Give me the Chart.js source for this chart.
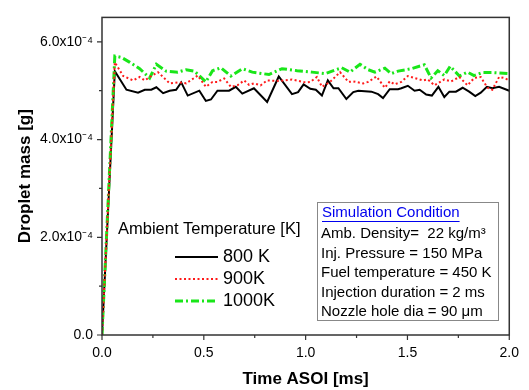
<!DOCTYPE html>
<html>
<head>
<meta charset="utf-8">
<script src="https://cdn.jsdelivr.net/npm/chart.js@4"></script>
<style>
body { margin: 0; background: #fff; }
</style>
</head>
<body>
<canvas id="myChart" width="529" height="390"></canvas>
<script>
// droplet mass in units of 1e-4 g, time in ms
const time_800 = [0, 0.063, 0.12, 0.177, 0.21, 0.242, 0.267, 0.30, 0.332, 0.364, 0.389, 0.421, 0.478, 0.51, 0.535, 0.567, 0.624, 0.657, 0.689, 0.746, 0.811, 0.868, 0.933, 0.963, 0.99, 1.023, 1.05, 1.08, 1.109, 1.137, 1.161, 1.2, 1.234, 1.259, 1.323, 1.356, 1.38, 1.413, 1.454, 1.47, 1.502, 1.535, 1.56, 1.592, 1.62, 1.652, 1.681, 1.706, 1.738, 1.771, 1.803, 1.833, 1.86, 1.89, 1.917, 1.95, 2.0];
const mass_800 = [0, 5.40, 5.02, 4.96, 5.02, 5.02, 5.07, 4.95, 5.00, 5.02, 5.17, 4.90, 5.00, 4.79, 4.82, 5.00, 5.00, 5.08, 4.94, 5.05, 4.77, 5.29, 4.93, 4.97, 5.13, 5.04, 5.02, 4.90, 5.21, 5.05, 5.05, 4.83, 4.97, 5.00, 4.98, 4.93, 4.85, 5.03, 5.03, 5.05, 5.10, 5.00, 5.02, 4.92, 4.90, 5.08, 4.87, 4.98, 4.98, 5.06, 4.98, 4.89, 4.96, 5.08, 5.05, 5.08, 5.00];

const time_900 = [0, 0.063, 0.104, 0.153, 0.185, 0.21, 0.242, 0.275, 0.30, 0.332, 0.38, 0.413, 0.47, 0.51, 0.543, 0.567, 0.60, 0.633, 0.665, 0.698, 0.722, 0.746, 0.779, 0.811, 0.868, 0.933, 0.999, 1.023, 1.055, 1.08, 1.12, 1.169, 1.21, 1.234, 1.283, 1.307, 1.348, 1.389, 1.413, 1.437, 1.47, 1.502, 1.535, 1.576, 1.60, 1.633, 1.681, 1.714, 1.755, 1.795, 1.828, 1.86, 1.893, 1.917, 1.95, 1.975, 2.0];
const mass_900 = [0, 5.58, 5.30, 5.21, 5.28, 5.21, 5.30, 5.38, 5.28, 5.15, 5.17, 5.15, 5.31, 5.08, 5.18, 5.18, 5.25, 5.08, 5.11, 5.21, 5.12, 5.15, 5.11, 5.21, 5.20, 5.23, 5.17, 5.18, 5.28, 5.08, 5.18, 5.38, 5.18, 5.19, 5.15, 5.18, 5.29, 5.06, 5.19, 5.13, 5.18, 5.30, 5.26, 5.21, 5.23, 5.11, 5.23, 5.19, 5.28, 5.11, 5.26, 5.28, 5.06, 5.02, 5.28, 5.26, 5.21];

const time_1000 = [0, 0.063, 0.096, 0.137, 0.185, 0.234, 0.267, 0.315, 0.372, 0.413, 0.454, 0.51, 0.543, 0.584, 0.633, 0.689, 0.738, 0.82, 0.884, 0.958, 1.031, 1.096, 1.177, 1.218, 1.267, 1.307, 1.34, 1.389, 1.42, 1.454, 1.519, 1.583, 1.616, 1.649, 1.681, 1.71, 1.755, 1.795, 1.827, 1.868, 1.925, 2.0];
const mass_1000 = [0, 5.71, 5.68, 5.58, 5.45, 5.26, 5.54, 5.40, 5.38, 5.43, 5.40, 5.18, 5.41, 5.47, 5.30, 5.45, 5.38, 5.33, 5.45, 5.41, 5.38, 5.35, 5.47, 5.38, 5.54, 5.43, 5.38, 5.46, 5.35, 5.40, 5.45, 5.53, 5.26, 5.41, 5.31, 5.50, 5.30, 5.38, 5.31, 5.37, 5.37, 5.35];

const series_labels = ['800 K', '900K', '1000K'];
const x_ticks = [0, 0.5, 1.0, 1.5, 2.0];
const y_ticks = [0, 2, 4, 6];
const legend_title = 'Ambient Temperature [K]';
const condition_title = 'Simulation Condition';
const condition_lines = [
    'Amb. Density=  22 kg/m\u00b3',
    'Inj. Pressure = 150 MPa',
    'Fuel temperature = 450 K',
    'Injection duration = 2 ms',
    'Nozzle hole dia = 90 \u03bcm'
];

const FONT = '"Liberation Sans", Arial, sans-serif';

function to_points(arr_time, arr_value) {
    let pts = [];
    for (let i = 0; i < arr_time.length; i++) {
        pts.push({x: arr_time[i], y: arr_value[i]});
    }
    return pts;
}

const frame_plugin = {
    id: 'frame_plugin',
    afterDraw(chart) {
        const ctx = chart.ctx;
        const a = chart.chartArea;
        const xs = chart.scales.x;
        const ys = chart.scales.y;
        ctx.save();
        ctx.strokeStyle = '#333';
        ctx.lineWidth = 1.5;
        ctx.strokeRect(a.left, a.top, a.right - a.left, a.bottom - a.top);
        ctx.lineWidth = 1.2;
        ctx.beginPath();
        for (let v = 0; v <= 2.0001; v += 0.25) {
            const px = xs.getPixelForValue(v);
            const len = (Math.abs(v / 0.5 - Math.round(v / 0.5)) < 1e-6) ? 5 : 3;
            ctx.moveTo(px, a.bottom);
            ctx.lineTo(px, a.bottom + len);
        }
        for (let v = 0; v <= 6.0001; v += 1) {
            const py = ys.getPixelForValue(v);
            const len = (v % 2 === 0) ? 5 : 3;
            ctx.moveTo(a.left, py);
            ctx.lineTo(a.left - len, py);
        }
        ctx.stroke();

        // legend
        ctx.fillStyle = '#000';
        ctx.textBaseline = 'middle';
        ctx.textAlign = 'left';
        ctx.font = '16.5px ' + FONT;
        ctx.fillText(legend_title, 118, 229);
        const ds = chart.data.datasets;
        for (let i = 0; i < ds.length; i++) {
            const y = 257 + i * 22;
            ctx.save();
            ctx.strokeStyle = ds[i].borderColor;
            ctx.lineWidth = ds[i].borderWidth;
            ctx.setLineDash(ds[i].borderDash || []);
            ctx.beginPath();
            ctx.moveTo(175, y);
            ctx.lineTo(218, y);
            ctx.stroke();
            ctx.restore();
            ctx.font = '18px ' + FONT;
            ctx.fillText(ds[i].label, 223, y);
        }

        // condition box
        ctx.strokeStyle = '#888';
        ctx.lineWidth = 1;
        ctx.fillStyle = '#fff';
        ctx.fillRect(317.5, 202.5, 181, 118);
        ctx.strokeRect(317.5, 202.5, 181, 118);
        ctx.font = '15px ' + FONT;
        ctx.fillStyle = '#0000ee';
        ctx.fillText(condition_title, 322, 213);
        const w = ctx.measureText(condition_title).width;
        ctx.strokeStyle = '#0000ee';
        ctx.beginPath();
        ctx.moveTo(322, 221.5);
        ctx.lineTo(322 + w, 221.5);
        ctx.stroke();
        ctx.fillStyle = '#000';
        for (let i = 0; i < condition_lines.length; i++) {
            ctx.fillText(condition_lines[i], 321, 234 + i * 19.5);
        }
        ctx.restore();
    }
};

const ctx = document.getElementById('myChart').getContext('2d');
const myChart = new Chart(ctx, {
    type: 'line',
    data: {
        datasets: [{
            label: series_labels[0],
            data: to_points(time_800, mass_800),
            borderColor: '#000000',
            borderWidth: 2,
            order: 2
        }, {
            label: series_labels[1],
            data: to_points(time_900, mass_900),
            borderColor: '#ff1a1a',
            borderWidth: 2,
            borderDash: [2, 2.5],
            order: 0
        }, {
            label: series_labels[2],
            data: to_points(time_1000, mass_1000),
            borderColor: '#19e619',
            borderWidth: 3,
            borderDash: [8, 3, 2, 3],
            order: 1
        }]
    },
    options: {
        responsive: false,
        animation: false,
        layout: { padding: { top: 6, right: 17, left: 0, bottom: 0 } },
        elements: { point: { radius: 0 }, line: { tension: 0 } },
        plugins: { legend: { display: false }, tooltip: { enabled: false } },
        scales: {
            x: {
                type: 'linear',
                min: 0,
                max: 2,
                grid: { display: false, drawTicks: false },
                border: { display: false },
                afterBuildTicks: (scale) => { scale.ticks = x_ticks.map(v => ({value: v})); },
                afterFit: (scale) => { scale.height = 55; },
                ticks: {
                    padding: 10,
                    color: '#000',
                    font: { family: FONT, size: 14 },
                    maxRotation: 0,
                    callback: (v) => v.toFixed(1)
                },
                title: {
                    display: true,
                    text: 'Time ASOI [ms]',
                    color: '#000',
                    font: { family: FONT, size: 17, weight: 'bold' },
                    padding: { top: 0, bottom: 0 }
                }
            },
            y: {
                min: 0,
                max: 6.5,
                grid: { display: false, drawTicks: false },
                border: { display: false },
                afterBuildTicks: (scale) => { scale.ticks = y_ticks.map(v => ({value: v})); },
                afterFit: (scale) => { scale.width = 102; },
                ticks: {
                    padding: 9,
                    color: '#000',
                    font: { family: FONT, size: 14 },
                    callback: (v) => v === 0 ? '0.0' : v.toFixed(1) + 'x10\u207b\u2074'
                },
                title: {
                    display: true,
                    text: 'Droplet mass [g]',
                    color: '#000',
                    font: { family: FONT, size: 17, weight: 'bold' },
                    padding: { top: 15, bottom: 0 }
                }
            }
        }
    },
    plugins: [frame_plugin]
});
</script>
</body>
</html>
